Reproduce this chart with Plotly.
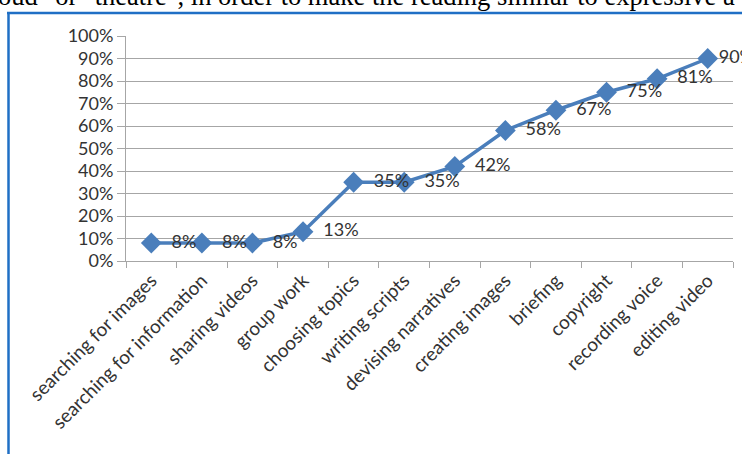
import plotly.graph_objects as go

categories = ["searching for images", "searching for information", "sharing videos",
              "group work", "choosing topics", "writing scripts", "devising narratives",
              "creating images", "briefing", "copyright", "recording voice", "editing video"]
values = [8, 8, 8, 13, 35, 35, 42, 58, 67, 75, 81, 90]
y_ticks = [0, 10, 20, 30, 40, 50, 60, 70, 80, 90, 100]
body_text = 'oud" or "theatre", in order to make the reading similar to expressive a'

W, H = 742, 454
L, R, T, B = 126, 9, 35.5, 193
PW, PH = W - L - R, H - T - B


def px(x):
    return (x - L) / PW


def py(y):
    return (H - B - y) / PH


labels = ["  " + f"{v}%" for v in values]
labels[-1] = f"{values[-1]}%"
positions = ["middle right"] * (len(values) - 1) + ["middle right"]

fig = go.Figure()
fig.add_trace(go.Scatter(
    x=categories, y=[v / 100 for v in values],
    mode="lines+markers+text",
    line=dict(color="#4A7EBB", width=3.5),
    marker=dict(symbol="diamond", size=16, color="#4A7EBB"),
    text=labels,
    textposition=positions,
    textfont=dict(family="Lato", size=18, color="#333333"),
    cliponaxis=False,
    hoverinfo="skip",
))

grid = "#a6a6a6"
fig.update_layout(
    width=W, height=H,
    margin=dict(l=L, r=R, t=T, b=B, autoexpand=False),
    paper_bgcolor="white", plot_bgcolor="white",
    showlegend=False,
    xaxis=dict(
        type="category", range=[-0.5, len(categories) - 0.5],
        tickson="boundaries", ticks="outside", ticklen=6, tickcolor=grid,
        showline=True, linecolor=grid, linewidth=1,
        showgrid=False, tickangle=-45, automargin=False,
        tickfont=dict(family="Lato", size=19, color="#333333"),
    ),
    yaxis=dict(
        range=[0, 1], tickvals=[t / 100 for t in y_ticks],
        ticktext=[f"{t}%" for t in y_ticks],
        ticks="outside", ticklen=8, tickcolor=grid,
        showline=True, linecolor=grid, linewidth=1, automargin=False,
        showgrid=True, gridcolor=grid, gridwidth=1, zeroline=False,
        tickfont=dict(family="Lato", size=18, color="#333333"),
    ),
)

# page context: blue frame around the chart and cropped body text above it
fig.add_shape(type="line", xref="paper", yref="paper",
              x0=px(7), x1=px(W + 5), y0=py(12.5), y1=py(12.5),
              line=dict(color="#1F6FC5", width=2.5))
fig.add_shape(type="line", xref="paper", yref="paper",
              x0=px(8.5), x1=px(8.5), y0=py(12.5), y1=py(H + 5),
              line=dict(color="#1F6FC5", width=2.5))
fig.add_annotation(xref="paper", yref="paper",
                   x=px(-4), y=py(12),
                   xanchor="left", yanchor="bottom",
                   text=body_text, showarrow=False,
                   font=dict(family="Liberation Serif", size=26.5, color="#000000"))

fig.write_html("out.html",
               config={"displayModeBar": False, "staticPlot": True},
               post_script="document.body.style.margin='0';document.body.style.overflow='hidden';")
